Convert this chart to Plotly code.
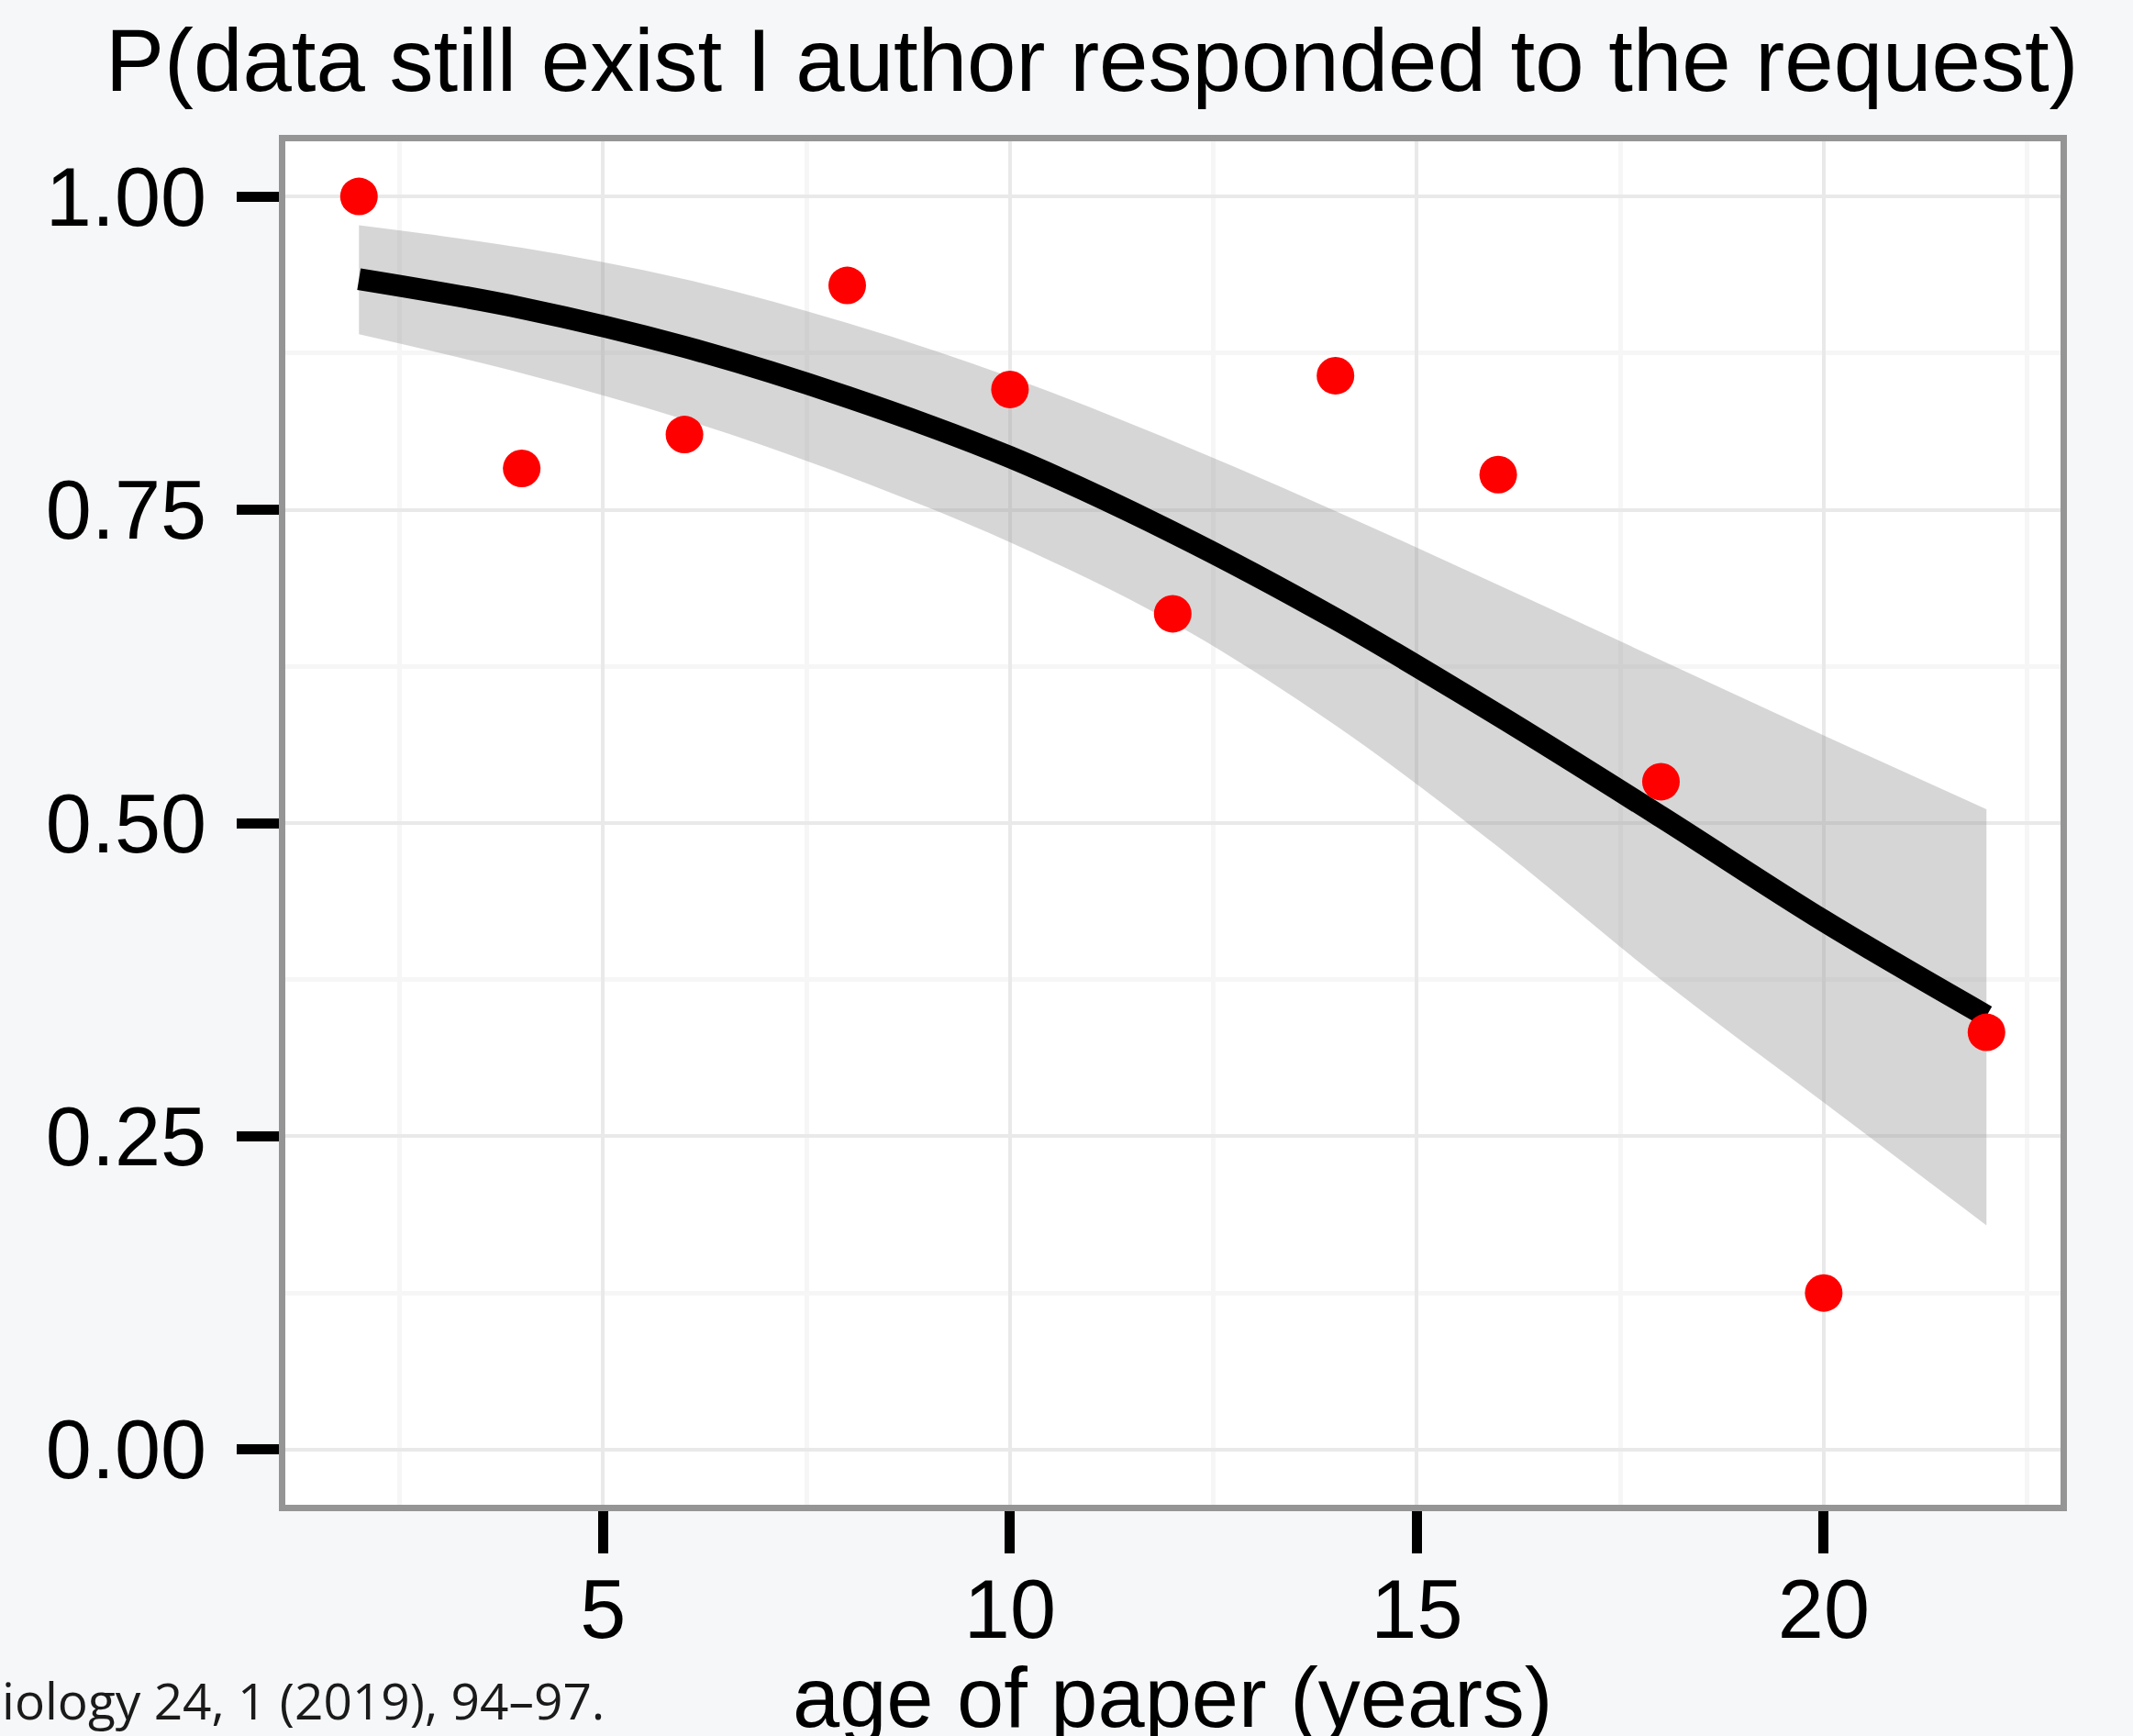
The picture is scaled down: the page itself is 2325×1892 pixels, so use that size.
import plotly.graph_objects as go

# Observed share of requests where the data still existed, by age of paper
age = [2, 4, 6, 8, 10, 12, 14, 16, 18, 20, 22]
share = [1.000, 0.783, 0.810, 0.929, 0.846, 0.667, 0.857, 0.778, 0.533, 0.125, 0.333]

# Fitted trend and its confidence band
fit = [0.934, 0.911, 0.880, 0.840, 0.792, 0.732, 0.663, 0.586, 0.505, 0.422, 0.346]
upper = [0.977, 0.959, 0.934, 0.899, 0.856, 0.805, 0.749, 0.690, 0.630, 0.570, 0.511]
lower = [0.890, 0.859, 0.822, 0.777, 0.724, 0.660, 0.578, 0.481, 0.375, 0.277, 0.179]

title_text = "P(data still exist I author responded to the request)"
x_title = "age of paper (years)"
source_text = "iology 24, 1 (2019), 94\u201397."

W, H = 2325, 1892
L, R, T, B = 311, 79, 154, 252
pw, ph = W - L - R, H - T - B

def px_x(p):
    return (p - L) / pw

def px_y(p):
    return 1 - (p - T) / ph

fig = go.Figure()

fig.add_trace(go.Scatter(
    x=age, y=lower, mode="lines",
    line=dict(width=0, shape="spline", color="rgba(0,0,0,0)"),
    hoverinfo="skip", showlegend=False,
))
fig.add_trace(go.Scatter(
    x=age, y=upper, mode="lines", fill="tonexty",
    fillcolor="rgba(153,153,153,0.4)",
    line=dict(width=0, shape="spline", color="rgba(0,0,0,0)"),
    hoverinfo="skip", showlegend=False,
))
fig.add_trace(go.Scatter(
    x=age, y=fit, mode="lines",
    line=dict(color="black", width=24, shape="spline"),
    showlegend=False,
))
fig.add_trace(go.Scatter(
    x=age, y=share, mode="markers",
    marker=dict(color="#ff0000", size=41, line=dict(width=0)),
    showlegend=False,
))

tick_font = dict(family="Liberation Sans, Arial, sans-serif", size=90, color="#000000")

axis_common = dict(
    showline=True, mirror=True, linecolor="#959595", linewidth=7,
    ticks="outside", ticklen=46, tickwidth=11, tickcolor="#000000",
    showgrid=True, gridcolor="#e9e9e9", gridwidth=4,
    zeroline=False, tickfont=tick_font, fixedrange=True,
)

fig.update_xaxes(
    range=[1.095, 22.91], tick0=0, dtick=5,
    minor=dict(tick0=0, dtick=2.5, showgrid=True, gridcolor="#f6f6f6", gridwidth=5, ticks=""),
    ticklabelstandoff=-16,
    **axis_common,
)
fig.update_yaxes(
    range=[-0.044, 1.044], tick0=0, dtick=0.25, tickformat=".2f",
    minor=dict(tick0=0, dtick=0.125, showgrid=True, gridcolor="#f6f6f6", gridwidth=5, ticks=""),
    ticklabelstandoff=15,
    **axis_common,
)

annotations = [
    dict(text=title_text, xref="paper", yref="paper",
         x=px_x(1190), y=px_y(66), xanchor="center", yanchor="middle",
         showarrow=False,
         font=dict(family="Liberation Sans, Arial, sans-serif", size=96, color="#000000")),
    dict(text=x_title, xref="paper", yref="paper",
         x=px_x(1278), y=px_y(1850), xanchor="center", yanchor="middle",
         showarrow=False,
         font=dict(family="Liberation Sans, Arial, sans-serif", size=92, color="#000000")),
    dict(text=source_text, xref="paper", yref="paper",
         x=px_x(0), y=px_y(1852), xanchor="left", yanchor="middle",
         showarrow=False,
         font=dict(family="Open Sans, sans-serif", size=55, color="#1a1a1a")),
]

fig.update_layout(
    width=W, height=H, autosize=False,
    margin=dict(l=L, r=R, t=T, b=B, pad=0, autoexpand=False),
    paper_bgcolor="#f6f7f9", plot_bgcolor="#ffffff",
    annotations=annotations,
    showlegend=False,
)

fig.write_html("out.html")
